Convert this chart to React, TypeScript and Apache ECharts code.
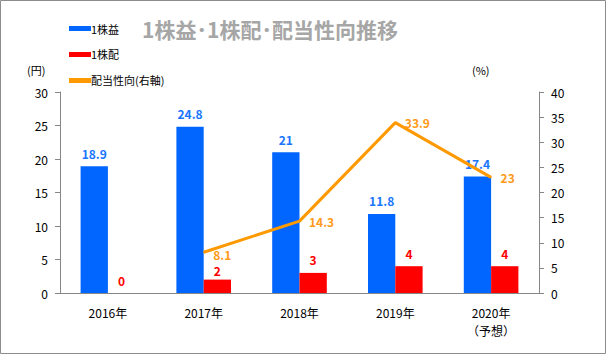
import React, { useEffect, useRef } from "react";
import * as echarts from "echarts";

const categories = ["2016年", "2017年", "2018年", "2019年", "2020年\n（予想）"];
const epsValues = [18.9, 24.8, 21, 11.8, 17.4];
const dpsValues = [0, 2, 3, 4, 4];
const payoutValues: (number | null)[] = [null, 8.1, 14.3, 33.9, 23];
const leftTicks = { min: 0, max: 30, interval: 5 };
const rightTicks = { min: 0, max: 40, interval: 5 };

const FONT = "'Noto Sans CJK JP', 'DejaVu Sans', sans-serif";
const BLUE = "#0066ff";
const RED = "#ff0000";
const ORANGE = "#ff9900";
const AXIS = "#868686";

export default function App() {
  const ref = useRef<HTMLDivElement>(null);
  useEffect(() => {
    if (!ref.current) return;
    const chart = echarts.init(ref.current, undefined, { renderer: "svg" });
    const payoutData = payoutValues.map((v, i) =>
      i === 1 ? { value: v, label: { offset: [0, 2] } } : v
    );
    const dpsData = dpsValues.map((v, i) =>
      i === 1 ? { value: v, label: { offset: [0, 4] } } : v
    );
    chart.setOption({
      animation: false,
      backgroundColor: "#ffffff",
      textStyle: { fontFamily: FONT },
      title: {
        text: "1株益･1株配･配当性向推移",
        left: 265,
        top: 13,
        textAlign: "center",
        textStyle: { fontSize: 21, fontWeight: "bold", color: "#a6a6a6", fontFamily: FONT },
      },
      legend: {
        orient: "vertical",
        left: 64,
        top: 18,
        itemWidth: 22,
        itemHeight: 5,
        itemGap: 15,
        textStyle: { fontSize: 11, color: "#000", fontFamily: FONT, padding: [0, 0, 0, -5] },
        data: [
          { name: "1株益", icon: "rect" },
          { name: "1株配", icon: "rect" },
          { name: "配当性向(右軸)", icon: "rect" },
        ],
      },
      grid: { left: 60, right: 67, top: 92, bottom: 61 },
      xAxis: {
        type: "category",
        data: categories,
        axisLine: { lineStyle: { color: AXIS } },
        axisTick: { lineStyle: { color: AXIS }, length: 5 },
        axisLabel: { color: "#000", fontSize: 12, margin: 10, lineHeight: 18, fontFamily: FONT },
      },
      yAxis: [
        {
          type: "value",
          ...leftTicks,
          splitLine: { show: false },
          axisLine: { show: true, lineStyle: { color: AXIS } },
          axisTick: { show: true, length: 5, lineStyle: { color: AXIS } },
          axisLabel: { color: "#000", fontSize: 12, margin: 12, fontFamily: FONT },
        },
        {
          type: "value",
          ...rightTicks,
          splitLine: { show: false },
          axisLine: { show: true, lineStyle: { color: AXIS } },
          axisTick: { show: true, length: 5, lineStyle: { color: AXIS } },
          axisLabel: { color: "#000", fontSize: 12, margin: 12, fontFamily: FONT },
        },
      ],
      graphic: [
        {
          type: "rect",
          shape: { x: 0.5, y: 0.5, width: 605, height: 353 },
          style: { fill: "none", stroke: "#8c8c8c", lineWidth: 1 },
          silent: true,
        },
        {
          type: "text",
          x: 27,
          y: 64,
          style: { text: "(円)", fontSize: 11, fill: "#000", fontFamily: FONT },
        },
        {
          type: "text",
          x: 472,
          y: 64,
          style: { text: "(%)", fontSize: 11, fill: "#000", fontFamily: FONT },
        },
      ],
      series: [
        {
          name: "1株益",
          type: "bar",
          data: epsValues,
          barWidth: "28.5%",
          barGap: "0%",
          itemStyle: { color: BLUE },
          label: {
            show: true,
            position: "top",
            distance: 7,
            color: "#1a75ff",
            fontWeight: "bold",
            fontSize: 12,
            fontFamily: FONT,
          },
        },
        {
          name: "1株配",
          type: "bar",
          data: dpsData,
          barWidth: "28.5%",
          itemStyle: { color: RED },
          label: {
            show: true,
            position: "top",
            distance: 7,
            color: RED,
            fontWeight: "bold",
            fontSize: 12,
            fontFamily: FONT,
          },
        },
        {
          name: "配当性向(右軸)",
          type: "line",
          yAxisIndex: 1,
          data: payoutData,
          symbol: "circle",
          symbolSize: 1,
          showSymbol: true,
          lineStyle: { color: ORANGE, width: 3 },
          itemStyle: { color: ORANGE },
          label: {
            show: true,
            position: "right",
            distance: 9,
            color: "#ff9a1a",
            fontWeight: "bold",
            fontSize: 12,
            fontFamily: FONT,
          },
        },
      ],
    });
    return () => chart.dispose();
  }, []);
  return (
    <div
      ref={ref}
      style={{ position: "fixed", left: 0, top: 0, width: 606, height: 354 }}
    />
  );
}
